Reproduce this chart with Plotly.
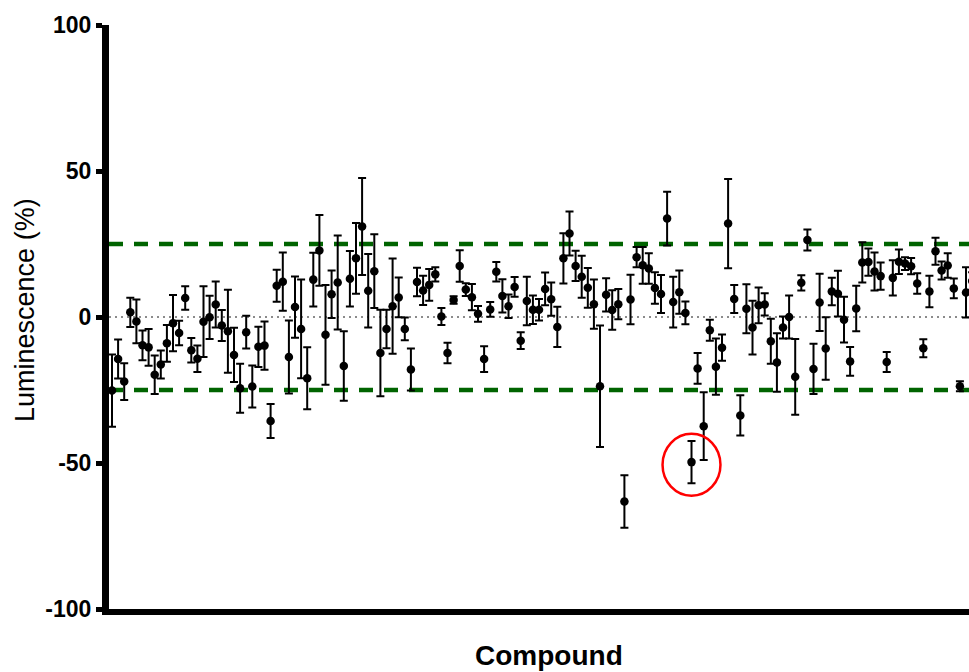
import plotly.graph_objects as go

# ---- data ----
compound_index = list(range(1, 143))

luminescence = [
    -25.2, -14.4, -22.1, 1.6, -1.5, -9.7, -10.4, -19.8, -16.3, -9.0,
    -2.1, -5.5, 6.5, -11.4, -14.3, -1.6, -0.1, 4.3, -2.9, -4.9,
    -13.0, -24.4, -5.2, -23.8, -10.2, -9.8, -35.6, 10.7, 12.1, -13.7,
    3.4, -4.1, -21.0, 12.8, 22.8, -6.1, 7.8, 11.8, -16.8, 13.1,
    20.1, 31.0, 9.0, 15.7, -12.3, -4.1, 3.7, 6.7, -4.1, -18.0,
    12.0, 9.1, 11.0, 14.6, 0.2, -12.3, 5.8, 17.5, 9.4, 6.8,
    1.1, -14.4, 2.6, 15.5, 7.2, 3.7, 10.3, -8.1, 5.5, 2.5,
    2.5, 9.6, 6.1, -3.4, 20.1, 28.6, 17.5, 13.8, 10.0, 4.4,
    -23.7, 7.6, 2.4, 4.4, -63.2, 6.0, 20.5, 17.7, 16.6, 9.9,
    7.9, 33.7, 5.1, 8.5, 1.4, -49.7, -17.6, -37.4, -4.5, -17.0,
    -10.5, 32.0, 6.2, -33.7, 2.8, -3.6, 4.0, 4.3, -8.3, -15.6,
    -3.6, 0.0, -20.5, 11.7, 26.4, -17.8, 5.0, -10.8, 8.7, 8.0,
    -0.9, -15.2, 2.9, 18.7, 18.8, 15.6, 14.0, -15.4, 13.4, 18.9,
    18.3, 17.4, 11.5, -10.7, 8.7, 22.5, 15.9, 17.6, 9.8, -23.7,
    8.4, 12.3,
]

sem = [
    12.4, 6.7, 6.3, 5.0, 7.5, 5.1, 6.3, 6.6, 4.8, 6.3,
    9.6, 4.2, 4.0, 4.2, 4.5, 12.1, 7.4, 7.9, 5.3, 14.2,
    9.3, 8.4, 5.6, 7.2, 6.9, 8.3, 5.8, 5.5, 10.0, 12.5,
    10.5, 16.9, 10.6, 9.2, 12.1, 17.1, 8.1, 16.1, 11.9, 9.5,
    12.1, 16.6, 12.6, 12.6, 14.8, 6.6, 16.3, 6.8, 3.9, 7.2,
    4.9, 5.0, 5.4, 2.4, 2.9, 3.5, 1.3, 5.4, 2.2, 4.5,
    2.7, 4.4, 2.5, 3.3, 5.7, 4.0, 3.4, 2.9, 8.3, 4.9,
    3.7, 5.6, 5.7, 6.9, 8.6, 7.5, 5.2, 7.2, 6.8, 8.4,
    20.8, 5.7, 6.8, 5.2, 9.0, 8.5, 3.5, 6.3, 5.2, 5.4,
    6.5, 9.2, 8.7, 7.4, 3.9, 7.2, 5.3, 11.6, 3.6, 9.6,
    4.5, 15.3, 4.8, 6.9, 8.4, 9.2, 6.1, 3.8, 7.7, 10.0,
    3.8, 7.4, 13.0, 2.6, 3.6, 8.6, 9.8, 10.7, 4.7, 7.8,
    7.8, 4.9, 7.8, 6.9, 4.7, 6.5, 4.7, 3.4, 6.0, 4.2,
    2.2, 2.8, 3.5, 3.1, 5.4, 4.6, 3.1, 4.2, 3.4, 1.7,
    8.6, 3.0,
]

threshold_upper = 25
threshold_lower = -25
y_tick_values = [-100, -50, 0, 50, 100]
y_tick_labels = ["-100", "-50", "0", "50", "100"]
highlight_compound = 96
x_title = "Compound"
y_title = "Luminescence (%)"

# ---- styling constants ----
FONT = "Arial, Liberation Sans, sans-serif"
circle_rx = 4.75
circle_ry = 10.6
circle_dy = -0.9

fig = go.Figure()
fig.add_trace(go.Scatter(
    x=compound_index,
    y=luminescence,
    mode="markers",
    marker=dict(color="black", size=8.5),
    error_y=dict(type="data", array=sem, visible=True,
                 color="black", thickness=2, width=4),
    showlegend=False,
))

hi_val = luminescence[compound_index.index(highlight_compound)]

fig.update_layout(
    width=969, height=672,
    margin=dict(l=109, r=0, t=25, b=63),
    paper_bgcolor="white", plot_bgcolor="white",
    showlegend=False,
    xaxis=dict(
        range=[0.508, 141.49], automargin=False,
        showline=True, linecolor="black", linewidth=6,
        showticklabels=False, ticks="", showgrid=False, zeroline=False,
    ),
    yaxis=dict(
        range=[-100, 100], automargin=False,
        tickvals=y_tick_values, ticktext=y_tick_labels,
        ticks="outside", ticklen=6, tickwidth=5, tickcolor="black",
        showline=True, linecolor="black", linewidth=7,
        showgrid=False, zeroline=False,
        tickfont=dict(family=FONT, size=23, color="black", weight="bold"),
    ),
    annotations=[
        dict(text=x_title, xref="paper", yref="paper", x=0.512, y=-0.0788,
             xanchor="center", yanchor="middle", showarrow=False,
             font=dict(family=FONT, size=28, color="black", weight="bold")),
        dict(text=y_title, xref="paper", yref="paper", x=-0.0977, y=0.512,
             xanchor="center", yanchor="middle", showarrow=False, textangle=-90,
             font=dict(family=FONT, size=27, color="black")),
    ],
    shapes=[
        dict(type="line", xref="paper", x0=0, x1=1, yref="y",
             y0=threshold_upper, y1=threshold_upper, layer="below",
             line=dict(color="#006400", width=4.5, dash="14px,11px")),
        dict(type="line", xref="paper", x0=0, x1=1, yref="y",
             y0=threshold_lower, y1=threshold_lower, layer="below",
             line=dict(color="#006400", width=4.5, dash="14px,11px")),
        dict(type="line", xref="paper", x0=0, x1=1, yref="y",
             y0=0, y1=0, layer="below",
             line=dict(color="#666666", width=1.5, dash="2px,4px")),
        dict(type="circle", xref="x", yref="y",
             x0=highlight_compound - circle_rx, x1=highlight_compound + circle_rx,
             y0=hi_val + circle_dy - circle_ry, y1=hi_val + circle_dy + circle_ry,
             line=dict(color="#ff0000", width=2.5), layer="above"),
    ],
)

# remove the default page margin so the 969x672 figure fills the window exactly
fig.write_html(
    "out.html",
    config={"displayModeBar": False},
    post_script="document.body.style.margin='0';document.body.style.overflow='hidden';",
)
